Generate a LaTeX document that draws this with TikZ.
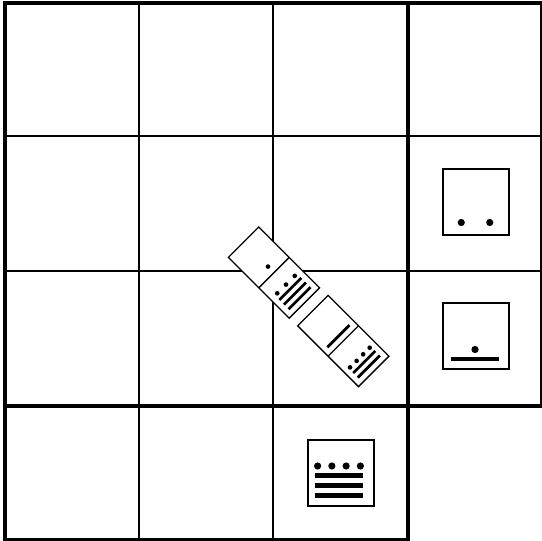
\documentclass[tikz,border=0pt]{standalone}
\begin{document}
\begin{tikzpicture}[x=1pt,y=1pt,
  thingrid/.style={line width=2pt},
  thickgrid/.style={line width=4pt},
  numbox/.style={draw,line width=2pt,fill=white},
  dominobox/.style={draw,line width=1.3pt,fill=white}]
\useasboundingbox (0,0) rectangle (542,541);
\newcommand{\mynum}[2]{%
  \ifnum#2>0
    \foreach \b in {1,...,#2} {\fill (-24,{-22.5+10*(\b-1)-2.1}) rectangle (24,{-22.5+10*(\b-1)+2.1});}
  \fi
  \ifnum#1>0
    \pgfmathsetmacro{\dy}{#2>0 ? -22.5+10*(#2-1)+9.5 : -20}
    \foreach \d in {1,...,#1} {\fill ({(\d-(#1+1)/2)*57/#1}, \dy) circle (3.6);}
  \fi
}
\newcommand{\mydomino}[6]{%
  \begin{scope}[shift={(#1,#2)},rotate=45]
    \path[dominobox] (-21.5,-43) rectangle (21.5,43);
    \draw[line width=1.3pt] (-21.5,0) -- (21.5,0);
    \begin{scope}[shift={(0,21.5)},scale=0.65] \mynum{#3}{#4} \end{scope}
    \begin{scope}[shift={(0,-21.5)},scale=0.65] \mynum{#5}{#6} \end{scope}
  \end{scope}
}
% grid
\draw[thingrid] (139,1) -- (139,538) (273,1) -- (273,538)
  (5,405) -- (541.5,405) (5,270) -- (541.5,270);
\draw[thickgrid] (5,1) -- (5,538) -- (541.5,538) -- (541.5,134.5) -- (408,134.5) -- (408,1) -- cycle;
\draw[thickgrid] (408,134.5) -- (408,538) (5,134.5) -- (408,134.5);
% squares
\path[numbox] (442.5,305.5) rectangle (508.5,371.5);
\begin{scope}[shift={(475.5,338.5)}] \mynum{2}{0} \end{scope}
\path[numbox] (442.5,171.5) rectangle (508.5,237.5);
\begin{scope}[shift={(475,204.5)}] \mynum{1}{1} \end{scope}
\path[numbox] (308,35) rectangle (374,101);
\begin{scope}[shift={(339,68)}] \mynum{4}{3} \end{scope}
% dominoes
\mydomino{274}{268.4}{1}{0}{3}{3}
\mydomino{343.3}{200}{0}{1}{4}{2}
\end{tikzpicture}
\end{document}
